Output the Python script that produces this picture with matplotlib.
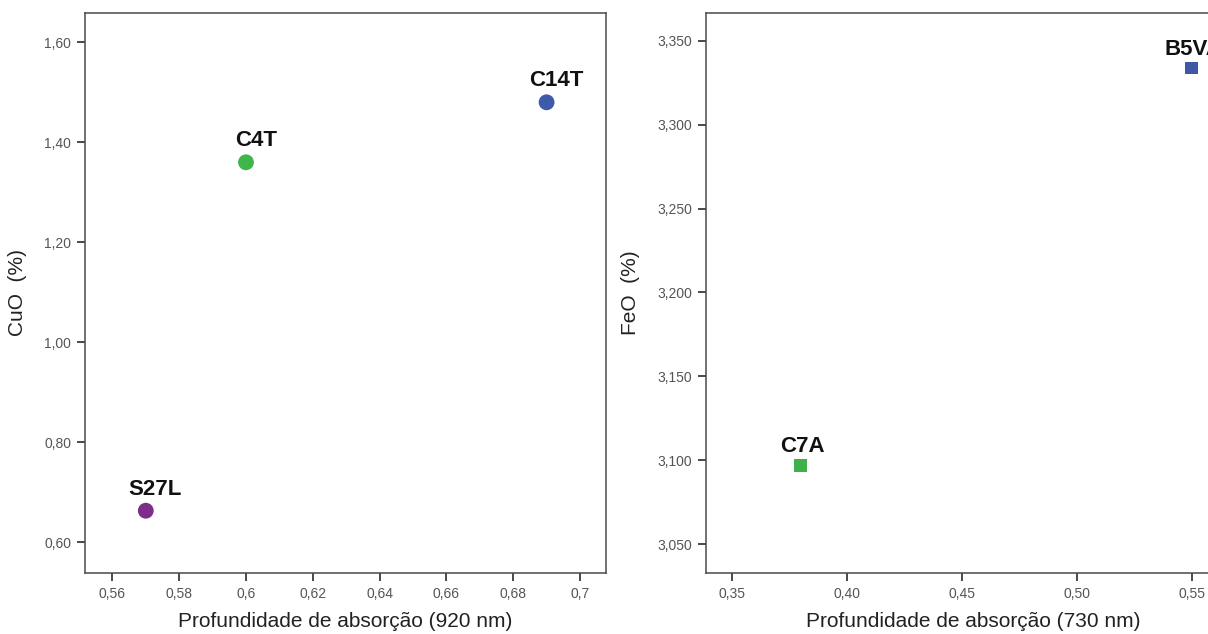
import matplotlib
matplotlib.use("Agg")
import matplotlib.pyplot as plt

plt.rcParams['font.family'] = ['Liberation Sans', 'DejaVu Sans']

# Left panel data (CuO vs absorption depth at 920 nm)
cu_labels = ["C14T", "C4T", "S27L"]
cu_x = [0.690, 0.600, 0.570]
cu_y = [1.480, 1.360, 0.663]
cu_colors = ["#3e5ba9", "#3fb54b", "#7e2d8b"]
cu_xticks = [0.56, 0.58, 0.60, 0.62, 0.64, 0.66, 0.68, 0.70]
cu_xticklabels = ["0,56", "0,58", "0,6", "0,62", "0,64", "0,66", "0,68", "0,7"]
cu_yticks = [0.60, 0.80, 1.00, 1.20, 1.40, 1.60]
cu_yticklabels = ["0,60", "0,80", "1,00", "1,20", "1,40", "1,60"]

# Right panel data (FeO vs absorption depth at 730 nm)
fe_labels = ["B5VA", "C7A"]
fe_x = [0.550, 0.380]
fe_y = [3.3337, 3.097]
fe_colors = ["#3e58a6", "#40b04b"]
fe_xticks = [0.35, 0.40, 0.45, 0.50, 0.55]
fe_xticklabels = ["0,35", "0,40", "0,45", "0,50", "0,55"]
fe_yticks = [3.05, 3.10, 3.15, 3.20, 3.25, 3.30, 3.35]
fe_yticklabels = ["3,050", "3,100", "3,150", "3,200", "3,250", "3,300", "3,350"]

W, H = 1208, 634
fig = plt.figure(figsize=(W / 100, H / 100), dpi=100)
fig.patch.set_facecolor("white")

axL = fig.add_axes([85 / W, (H - 572.7) / H, (605.7 - 85) / W, (572.7 - 13.3) / H])
axR = fig.add_axes([705.7 / W, (H - 572.7) / H, (1240 - 705.7) / W, (572.7 - 13.3) / H])

spine_c = "#4a4a4a"
tick_c = "#555555"


def style(ax):
    for s in ax.spines.values():
        s.set_color(spine_c)
        s.set_linewidth(1.1)
    ax.tick_params(axis="both", which="major", direction="out", length=6,
                   width=1.4, color=spine_c, labelcolor=tick_c, labelsize=10,
                   top=False, right=False, pad=4)


# Left
axL.scatter(cu_x, cu_y, s=130, c=cu_colors, marker="o", edgecolors="none", zorder=3)
for lab, x, y in zip(cu_labels, cu_x, cu_y):
    axL.annotate(lab, (x, y), xytext=(7, 11.5), textcoords="offset points",
                 ha="center", va="baseline", fontsize=16, fontweight="bold",
                 color="#111111")
axL.set_xlim(0.5518, 0.7077)
axL.set_ylim(0.539, 1.658)
axL.set_xticks(cu_xticks)
axL.set_xticklabels(cu_xticklabels)
axL.set_yticks(cu_yticks)
axL.set_yticklabels(cu_yticklabels)
style(axL)
axL.set_xlabel("Profundidade de absorção (920 nm)", fontsize=15, color="#222222", labelpad=8)
axL.set_ylabel("CuO  (%)", fontsize=15, color="#222222", labelpad=12)

# Right
axR.scatter(fe_x, fe_y, s=85, c=fe_colors, marker="s", edgecolors="none", zorder=3)
for lab, x, y in zip(fe_labels, fe_x, fe_y):
    axR.annotate(lab, (x, y), xytext=(1, 9.5), textcoords="offset points",
                 ha="center", va="baseline", fontsize=16, fontweight="bold",
                 color="#111111")
axR.set_xlim(0.3387, 0.3387 + (1240 - 705.7) / 2300)
axR.set_ylim(3.0331, 3.3663)
axR.set_xticks(fe_xticks)
axR.set_xticklabels(fe_xticklabels)
axR.set_yticks(fe_yticks)
axR.set_yticklabels(fe_yticklabels)
style(axR)
axR.set_xlabel("Profundidade de absorção (730 nm)", fontsize=15, color="#222222", labelpad=8)
axR.set_ylabel("FeO  (%)", fontsize=15, color="#222222", labelpad=12)

fig.savefig("out.png", dpi=100, facecolor="white")
